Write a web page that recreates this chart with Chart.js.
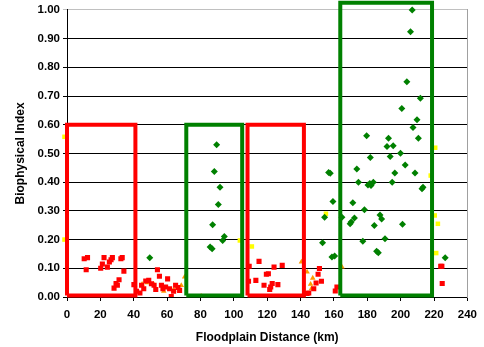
<!DOCTYPE html>
<html>
<head>
<meta charset="utf-8">
<script src="https://cdn.jsdelivr.net/npm/chart.js@4.4.0/dist/chart.umd.min.js"></script>
<style>
  html, body { margin: 0; padding: 0; background: #fff; }
</style>
</head>
<body>
<canvas id="myChart" width="484" height="347"></canvas>
<script>
// points: [distance km, index]
const redPoints = [
  [10.3,0.133],[12.3,0.137],[11.5,0.095],[20.2,0.100],[21.2,0.115],[22.2,0.137],[24.2,0.104],
  [25.4,0.122],[26.4,0.130],[27.2,0.137],[28.2,0.031],[29.4,0.047],[30.2,0.041],[31.2,0.060],
  [32.3,0.133],[33.1,0.137],[34.1,0.090],[40.1,0.043],[41.7,0.020],[43.7,0.014],[44.7,0.041],
  [46.0,0.029],[47.2,0.056],[49.0,0.058],[50.6,0.046],[52.2,0.041],[53.2,0.026],[54.2,0.095],
  [55.4,0.072],[56.6,0.041],[57.5,0.029],[59.1,0.035],[60.3,0.063],[61.5,0.029],[62.5,0.002],
  [63.9,0.020],[65.1,0.041],[66.5,0.033],[67.5,0.023],
  [108.8,0.055],[109.2,0.107],[113.2,0.058],[115.1,0.124],[118.1,0.041],[119.5,0.079],[120.7,0.081],
  [121.5,0.026],[122.1,0.035],[123.0,0.047],[124.1,0.104],[126.4,0.043],[129.0,0.110],[143.9,0.012],
  [144.9,0.014],[147.9,0.029],[149.3,0.049],[150.5,0.079],[151.3,0.099],[152.5,0.055],[160.8,0.021],
  [161.8,0.035],[224.0,0.107],[224.7,0.107],[224.9,0.047]
];
const greenPoints = [
  [49.6,0.137],[85.8,0.174],[87.0,0.168],[87.3,0.252],[88.3,0.437],[89.7,0.530],[90.7,0.322],
  [91.7,0.382],[93.3,0.197],[94.3,0.211],
  [153.2,0.189],[154.4,0.278],[156.8,0.434],[157.8,0.431],[158.8,0.139],[159.4,0.333],[160.4,0.143],
  [164.8,0.278],[169.7,0.255],[170.3,0.261],[171.3,0.328],[172.3,0.275],[173.7,0.446],[174.7,0.400],
  [177.3,0.194],[178.3,0.304],[179.6,0.562],[180.4,0.390],[181.5,0.395],[181.8,0.486],[182.2,0.388],
  [183.6,0.400],[184.2,0.249],[185.6,0.159],[186.6,0.154],[187.6,0.286],[188.6,0.272],[190.6,0.203],
  [191.8,0.524],[192.7,0.553],[193.7,0.489],[194.9,0.400],[195.5,0.527],[196.5,0.432],[199.9,0.501],
  [200.7,0.657],[201.1,0.253],[202.7,0.460],[203.7,0.750],[205.9,0.924],[206.9,1.000],[207.4,0.590],
  [208.6,0.432],[209.8,0.617],[210.6,0.553],[211.8,0.692],[212.8,0.377],[213.4,0.382],[226.7,0.137]
];
const yellowPoints = [
  [-1.5,0.558],[-1.5,0.200],[103.6,0.197],[110.8,0.176],[155.2,0.290],[218.0,0.423],[220.4,0.284],
  [220.7,0.520],[222.3,0.255],[221.3,0.153]
];
const orangePoints = [
  [40.5,0.040],[45.0,0.045],[48.0,0.050],[52.0,0.045],[58.0,0.020],[64.0,0.025],[68.5,0.040],
  [70.5,0.070],[80.4,0.003],[140.5,0.122],[143.9,0.087],[147.3,0.066],[146.5,0.029],[146.0,0.045],
  [164.8,0.105]
];
// highlighted reaches: [x from, x to, y from, y to]
const redBoxes = [[0, 41, 0.005, 0.60], [108.2, 142, 0.005, 0.60]];
const greenBoxes = [[71.5, 105, 0.005, 0.60], [163.8, 218.8, 0.005, 1.025]];

const xTicks = [0, 20, 40, 60, 80, 100, 120, 140, 160, 180, 200, 220, 240];

function toXY(arr) {
  return arr.map(p => ({ x: p[0], y: p[1] }));
}
function boxPath(b) {
  return [
    { x: b[0], y: b[2] }, { x: b[0], y: b[3] }, { x: b[1], y: b[3] },
    { x: b[1], y: b[2] }, { x: b[0], y: b[2] }
  ];
}

const boxSets = [];
redBoxes.forEach(b => boxSets.push({ data: boxPath(b), color: '#ff0000' }));
greenBoxes.forEach(b => boxSets.push({ data: boxPath(b), color: '#008000' }));

const datasets = boxSets.map(b => ({
  data: b.data,
  showLine: true,
  borderColor: b.color,
  borderWidth: 4,
  pointRadius: 0,
  fill: false,
  tension: 0,
  clip: false,
  borderJoinStyle: 'miter'
}));

datasets.push({
  data: toXY(greenPoints),
  pointStyle: 'rectRot',
  pointRadius: 3.5,
  backgroundColor: '#008000',
  borderColor: '#008000',
  borderWidth: 0,
  clip: false
});
datasets.push({
  data: toXY(redPoints),
  pointStyle: 'rect',
  pointRadius: 3.6,
  backgroundColor: '#ff0000',
  borderColor: '#ff0000',
  borderWidth: 0
});
datasets.push({
  data: toXY(orangePoints),
  pointStyle: 'triangle',
  pointRadius: 3.2,
  backgroundColor: '#ff9900',
  borderColor: '#ff9900',
  borderWidth: 0
});
datasets.push({
  data: toXY(yellowPoints),
  pointStyle: 'rect',
  pointRadius: 3.2,
  backgroundColor: '#ffff00',
  borderColor: '#ffff00',
  borderWidth: 0,
  clip: false
});

const font = { family: 'Arial, "Liberation Sans", sans-serif', weight: 'bold', size: 11.5 };

const ctx = document.getElementById('myChart').getContext('2d');
const myChart = new Chart(ctx, {
  type: 'scatter',
  data: { datasets: datasets },
  options: {
    responsive: false,
    animation: false,
    layout: { padding: { top: 9, right: 15, left: 13, bottom: 0 } },
    plugins: {
      legend: { display: false },
      tooltip: { enabled: false }
    },
    scales: {
      x: {
        type: 'linear',
        min: 0,
        max: 240,
        afterBuildTicks: s => { s.ticks = xTicks.map(v => ({ value: v })); },
        afterFit: s => { s.height = 50; },
        ticks: { color: '#000', font: font, padding: 7, maxRotation: 0 },
        grid: { drawOnChartArea: false, drawTicks: true, tickLength: 4, color: '#000' },
        border: { color: '#000', width: 1 },
        title: {
          display: true,
          text: 'Floodplain Distance (km)',
          color: '#000',
          font: { family: font.family, weight: 'bold', size: 12 },
          padding: { top: 8, bottom: 2 }
        }
      },
      y: {
        type: 'linear',
        min: 0,
        max: 1,
        ticks: {
          stepSize: 0.1,
          color: '#000',
          font: font,
          padding: 3,
          callback: v => v.toFixed(2)
        },
        afterFit: s => { s.width = 54; },
        grid: {
          color: c => (c.tick && c.tick.value >= 0.999 ? '#c0c0c0' : '#000'),
          tickLength: 4
        },
        border: { color: '#000', width: 1 },
        title: {
          display: true,
          text: 'Biophysical Index',
          color: '#000',
          font: { family: font.family, weight: 'bold', size: 12 },
          padding: { top: 0, bottom: 0 }
        }
      },
      yRight: {
        type: 'linear',
        position: 'right',
        min: 0,
        max: 1,
        ticks: { display: false },
        grid: { display: false },
        afterFit: s => { s.width = 0; },
        border: { color: '#a0a0a0', width: 1 }
      }
    }
  }
});
</script>
</body>
</html>
